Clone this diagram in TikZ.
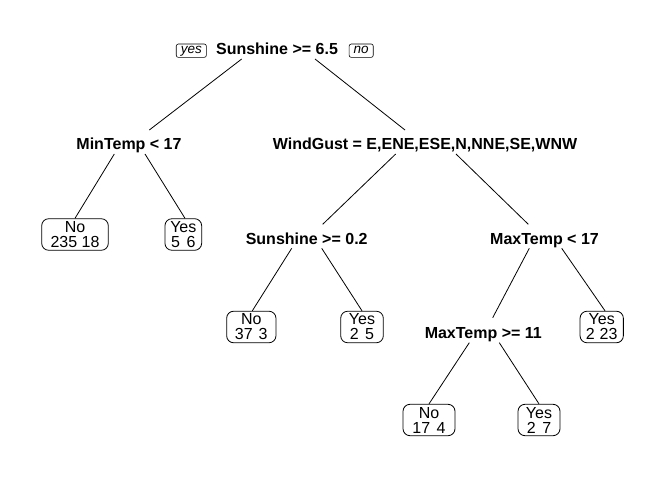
\documentclass[tikz,border=0pt]{standalone}
\usepackage{fontspec}
\setmainfont{Liberation Sans}
\usetikzlibrary{calc}
\newcommand\leafcontent[2]{\vbox{\baselineskip=15bp\lineskiplimit=-20bp\lineskip=0pt\halign{\hfil##\hfil\cr#1\cr#2\cr}}}
\begin{document}
\begin{tikzpicture}[x=1bp,y=-1bp,
  split/.style={font=\fontsize{16bp}{15bp}\selectfont\bfseries, inner sep=0pt, anchor=base},
  leaf/.style={draw, line width=0.8bp, rounded corners=7bp, font=\fontsize{16bp}{15bp}\selectfont, inner xsep=2bp, inner ysep=2.7bp},
  lab/.style={draw, line width=0.6bp, rounded corners=2bp, font=\fontsize{13.5bp}{14bp}\selectfont\itshape, inner xsep=4.5bp, inner ysep=0pt, text height=7.5bp, text depth=2.8bp, minimum height=13.3bp},
  edge/.style={line width=0.8bp}]
\useasboundingbox (0,0) rectangle (672,480);

\node[split] (r) at (277,55) {Sunshine >= 6.5};
\node[lab] (yes) at (191.3,50.7) {yes};
\node[lab] (no) at (361.2,50.7) {no};
\node[split] (m) at (129,150) {MinTemp < 17};
\node[split] (w) at (425,150) {WindGust = E,ENE,ESE,N,NNE,SE,WNW};
\node[leaf, minimum width=66.6bp] (l1) at (75,234.5) {\leafcontent{No}{235 18}};
\node[leaf, minimum width=36.7bp] (l2) at (183.3,234.5) {\leafcontent{Yes}{5\hspace{6.5bp}6}};
\node[split] (s) at (306.7,244.3) {Sunshine >= 0.2};
\node[split] (x) at (544.5,244.3) {MaxTemp < 17};
\node[leaf, minimum width=49.3bp] (l3) at (251.3,327) {\leafcontent{No}{37\hspace{6bp}3}};
\node[leaf, minimum width=42.6bp] (l4) at (362,327) {\leafcontent{Yes}{2\hspace{6.5bp}5}};
\node[split] (y) at (483.3,338.7) {MaxTemp >= 11};
\node[leaf, minimum width=43.3bp] (l5) at (601.7,327) {\leafcontent{Yes}{2\hspace{5bp}23}};
\node[leaf, minimum width=52bp] (l6) at (429,420) {\leafcontent{No}{17\hspace{6.5bp}4}};
\node[leaf, minimum width=42bp] (l7) at (539,420) {\leafcontent{Yes}{2\hspace{6.5bp}7}};

\draw[edge] ($(r.base)+(-35.3,4)$) -- ($(m.base)+(20.3,-20)$);
\draw[edge] ($(r.base)+(38,4)$) -- ($(w.base)+(-20,-20)$);
\draw[edge] ($(m.base)+(-14.7,4)$) -- (l1.north);
\draw[edge] ($(m.base)+(16,4)$) -- ($(l2.north)+(1.7,0)$);
\draw[edge] ($(w.base)+(-29.3,4)$) -- ($(s.base)+(16,-20)$);
\draw[edge] ($(w.base)+(31,4)$) -- ($(x.base)+(-16.2,-20)$);
\draw[edge] ($(s.base)+(-15,4)$) -- ($(l3.north)+(1,0)$);
\draw[edge] ($(s.base)+(15,4)$) -- (l4.north);
\draw[edge] ($(x.base)+(-15.2,4)$) -- ($(y.base)+(9.4,-21)$);
\draw[edge] ($(x.base)+(17.2,4)$) -- ($(l5.north)+(3.3,0)$);
\draw[edge] ($(y.base)+(-14,4)$) -- (l6.north);
\draw[edge] ($(y.base)+(16,4)$) -- (l7.north);
\end{tikzpicture}
\end{document}
